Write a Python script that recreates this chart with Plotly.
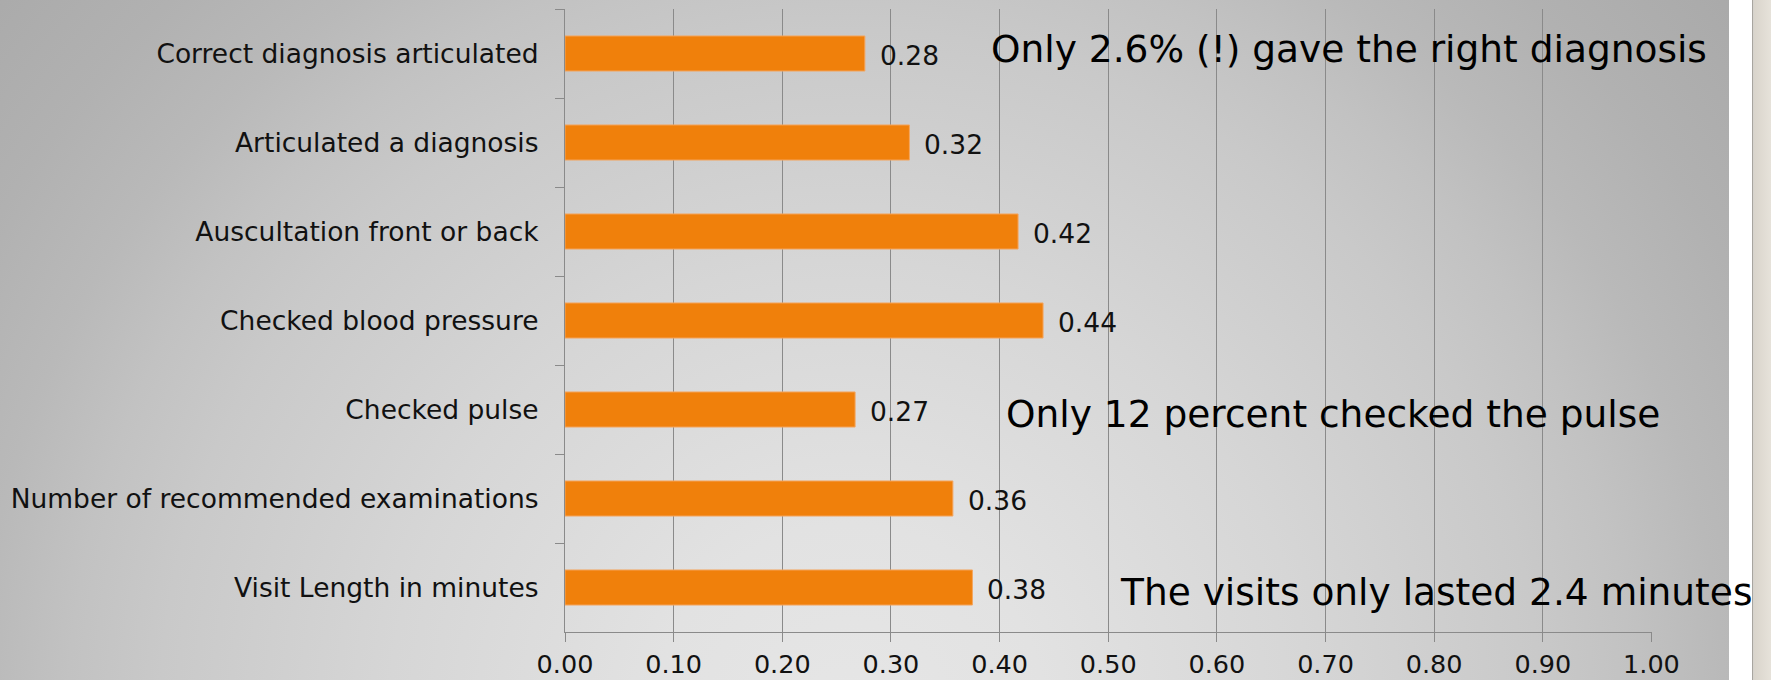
import base64
import plotly.graph_objects as go

# Share of visits in which each item was observed (top to bottom)
categories = [
    "Correct diagnosis articulated",
    "Articulated a diagnosis",
    "Auscultation front or back",
    "Checked blood pressure",
    "Checked pulse",
    "Number of recommended examinations",
    "Visit Length in minutes",
]
values = [0.276, 0.317, 0.417, 0.440, 0.267, 0.357, 0.375]

x_ticks = [0.0, 0.1, 0.2, 0.3, 0.4, 0.5, 0.6, 0.7, 0.8, 0.9, 1.0]

# Callout notes placed beside some of the bars
note_texts = [
    "Only 2.6% (!) gave the right diagnosis",
    "Only 12 percent checked the pulse",
    "The visits only lasted 2.4 minutes",
]
note_rows = ["Correct diagnosis articulated", "Checked pulse", "Visit Length in minutes"]
note_x = [0.390, 0.404, 0.509]
note_dy = [5, -4, -4]

W, H = 1771, 680
L, R, T, B = 565, 119, 9, 48
plot_w = W - L - R
plot_h = H - T - B

FONT = "DejaVu Sans"
BAR = "#F0800B"
GRID = "#8A8A8A"

# Slide background: soft radial grey gradient, white gutter and a beige edge
svg = f"""<svg xmlns='http://www.w3.org/2000/svg' width='{W}' height='{H}' viewBox='0 0 {W} {H}' preserveAspectRatio='none'>
<defs>
<radialGradient id='bg' gradientUnits='userSpaceOnUse' cx='850' cy='720' r='1150'>
<stop offset='0' stop-color='#e6e6e6'/>
<stop offset='0.17' stop-color='#e2e2e2'/>
<stop offset='0.40' stop-color='#d6d6d6'/>
<stop offset='0.60' stop-color='#c9c9c9'/>
<stop offset='0.68' stop-color='#c2c2c2'/>
<stop offset='0.76' stop-color='#b9b9b9'/>
<stop offset='0.86' stop-color='#b1b1b1'/>
<stop offset='1' stop-color='#a9a9a9'/>
</radialGradient>
<linearGradient id='edge' x1='0' y1='0' x2='1' y2='0'>
<stop offset='0' stop-color='#d9d4cb'/>
<stop offset='1' stop-color='#e6e2da'/>
</linearGradient>
</defs>
<rect x='0' y='0' width='1729' height='{H}' fill='url(#bg)'/>
<rect x='1729' y='0' width='23' height='{H}' fill='#ffffff'/>
<rect x='1752' y='0' width='1.5' height='{H}' fill='#a8a59f'/>
<rect x='1753.5' y='0' width='{W - 1753.5}' height='{H}' fill='url(#edge)'/>
</svg>"""
bg_uri = "data:image/svg+xml;base64," + base64.b64encode(svg.encode()).decode()

fig = go.Figure()
fig.add_trace(
    go.Bar(
        x=values,
        y=categories,
        orientation="h",
        marker=dict(color=BAR, line=dict(color="#F4A55E", width=1)),
        hoverinfo="x+y",
    )
)

annotations = []
# Value labels to the right of each bar
for cat, v in zip(categories, values):
    annotations.append(
        dict(
            x=v, y=cat, xref="x", yref="y",
            text=f"{v:.2f}", showarrow=False,
            xanchor="left", yanchor="middle", xshift=13, yshift=-2,
            font=dict(family=FONT, size=26.5, color="#111111"),
        )
    )
# Callout notes
for txt, row, nx, dy in zip(note_texts, note_rows, note_x, note_dy):
    annotations.append(
        dict(
            x=nx, y=row, xref="x", yref="y",
            text=txt, showarrow=False,
            xanchor="left", yanchor="middle", yshift=dy,
            font=dict(family=FONT, size=37.5, color="#000000"),
        )
    )

fig.update_layout(
    width=W,
    height=H,
    margin=dict(l=L, r=R, t=T, b=B, pad=0, autoexpand=False),
    paper_bgcolor="#ffffff",
    plot_bgcolor="rgba(0,0,0,0)",
    showlegend=False,
    bargap=0.606,
    font=dict(family=FONT, size=26, color="#111111"),
    annotations=annotations,
    images=[
        dict(
            source=bg_uri,
            xref="paper", yref="paper",
            x=-L / plot_w, y=1 + T / plot_h,
            sizex=W / plot_w, sizey=H / plot_h,
            xanchor="left", yanchor="top",
            sizing="stretch", layer="below",
        )
    ],
)

fig.update_xaxes(
    range=[0, 1.0005],
    tickvals=x_ticks,
    tickformat=".2f",
    showgrid=True,
    gridcolor=GRID,
    gridwidth=1.2,
    zeroline=False,
    showline=True,
    linecolor=GRID,
    linewidth=1.3,
    ticks="outside",
    ticklen=9,
    tickwidth=1.3,
    tickcolor=GRID,
    tickfont=dict(family=FONT, size=25.5, color="#111111"),
    ticklabelstandoff=0,
    automargin=False,
    fixedrange=True,
)

fig.update_yaxes(
    categoryorder="array",
    categoryarray=categories,
    autorange="reversed",
    showgrid=False,
    zeroline=False,
    showline=True,
    linecolor=GRID,
    linewidth=1.3,
    ticks="outside",
    tickson="boundaries",
    ticklen=9,
    tickwidth=1.3,
    tickcolor=GRID,
    tickfont=dict(family=FONT, size=26.5, color="#111111"),
    ticklabelstandoff=20,
    automargin=False,
    fixedrange=True,
)

fig.write_html("out.html")
